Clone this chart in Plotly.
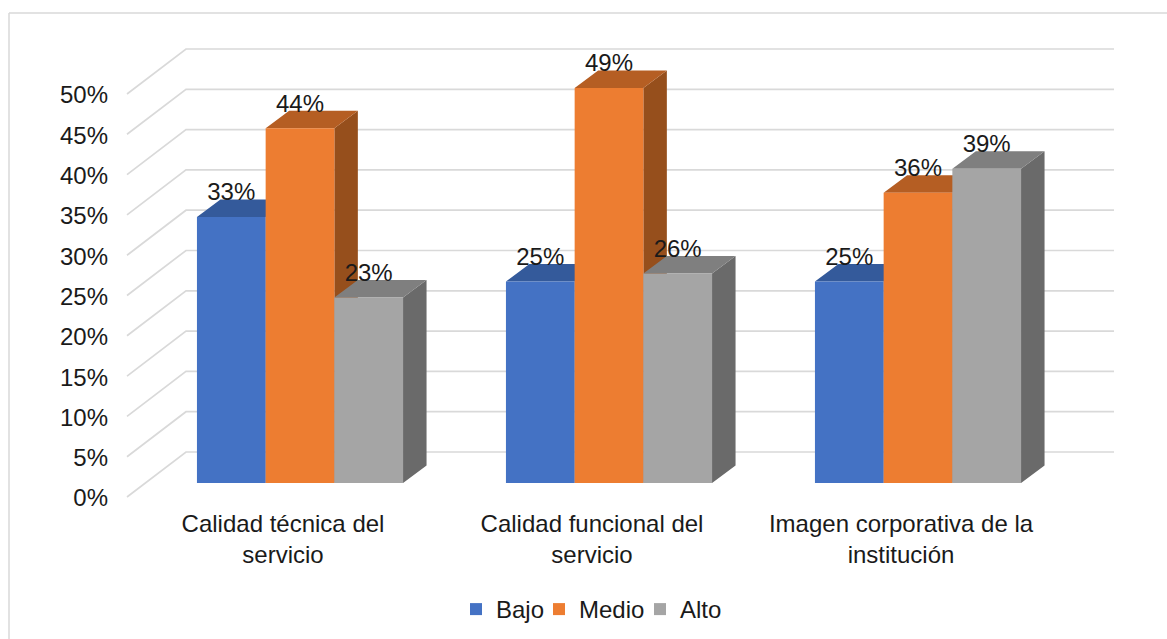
import plotly.graph_objects as go

# ---- data ----
categories = ["Calidad técnica del<br>servicio", "Calidad funcional del<br>servicio", "Imagen corporativa de la<br>institución"]
series_names = ["Bajo", "Medio", "Alto"]
bajo = [33, 25, 25]
medio = [44, 49, 36]
alto = [23, 26, 39]
y_ticks = [0, 5, 10, 15, 20, 25, 30, 35, 40, 45, 50]
y_tick_labels = [f"{t}%" for t in y_ticks]

# ---- style ----
W, H = 1167, 639
PX_X = 309.0        # px per category
PX_Y = 8.06         # px per percentage point
FONT = "Liberation Sans"
FS = 24
TXT = "#1a1a1a"
GRID = "#d9d9d9"
front = ["#4472C4", "#ED7D31", "#A5A5A5"]
top = ["#345A9B", "#B55E23", "#7F7F7F"]
side = ["#2C4C84", "#964F1C", "#6A6A6A"]
values = [bajo, medio, alto]
legend_ids = ["legend", "legend2", "legend3"]
legend_left_px = [456, 539, 640]

BAR_W = 68.7 / PX_X
DX, DY = 23.5 / PX_X, 17.5 / PX_Y       # bar depth in data units
WX, WY = 59.0 / PX_X, 45.0 / PX_Y       # wall depth in data units
CX0 = 300.0         # px of first category centre
Y_BAR0 = 483.0      # px of 0 in the bar plane
Y_FRONT0 = 497.0    # px of 0 in the front wall edge
Y_LABEL0 = 498.0    # px of the 0% tick label centre
X_FRONT = 127.0     # px of front wall edge
X_BACK_END = 1114.0

x_range = [(0 - CX0) / PX_X, (W - CX0) / PX_X]
xf = (X_FRONT - CX0) / PX_X
xe = (X_BACK_END - CX0) / PX_X
grid_shift = (Y_LABEL0 - Y_FRONT0) / PX_Y

fig = go.Figure()

# wall grid on the axis that carries the tick labels
gx, gy = [], []
for t in y_ticks:
    gx += [xf, xf + WX, xe, None]
    gy += [t + grid_shift, t + grid_shift + WY, t + grid_shift + WY, None]
fig.add_trace(go.Scatter(x=gx, y=gy, mode="lines", line=dict(color=GRID, width=1.7),
                         showlegend=False, hoverinfo="skip", yaxis="y"))

# depth faces of each bar
xs = [0, 1, 2]
for s, vals in enumerate(values):
    sx, sy, tx, ty = [], [], [], []
    for c, v in zip(xs, vals):
        left = c + (s - 1.5) * BAR_W
        right = left + BAR_W
        sx += [right, right + DX, right + DX, right, right, None]
        sy += [0, DY, v + DY, v, 0, None]
        tx += [left, left + DX, right + DX, right, left, None]
        ty += [v, v + DY, v + DY, v, v, None]
    fig.add_trace(go.Scatter(x=sx, y=sy, mode="lines", fill="toself", fillcolor=side[s],
                             line=dict(width=0), showlegend=False, hoverinfo="skip", yaxis="y2"))
    fig.add_trace(go.Scatter(x=tx, y=ty, mode="lines", fill="toself", fillcolor=top[s],
                             line=dict(width=0), showlegend=False, hoverinfo="skip", yaxis="y2"))

# front faces
for s, vals in enumerate(values):
    fig.add_trace(go.Bar(x=xs, y=vals, name=series_names[s], marker=dict(color=front[s], line=dict(width=0)),
                         yaxis="y3", legend=legend_ids[s]))

# data labels
lbl_x, lbl_y, lbl_t = [], [], []
for s, vals in enumerate(values):
    for c, v in zip(xs, vals):
        lbl_x.append(c + (s - 1) * BAR_W)
        lbl_y.append(v + 2.8)
        lbl_t.append(f"{v}%")
fig.add_trace(go.Scatter(x=lbl_x, y=lbl_y, text=lbl_t, mode="text", textposition="middle center",
                         textfont=dict(family=FONT, size=FS, color=TXT), showlegend=False,
                         hoverinfo="skip", yaxis="y3"))

bar_range = [-(H - Y_BAR0) / PX_Y, Y_BAR0 / PX_Y]
lab_range = [-(H - Y_LABEL0) / PX_Y, Y_LABEL0 / PX_Y]


def legend_at(px):
    return dict(orientation="h", x=px / W, xanchor="left", y=1 - 609.5 / H, yanchor="middle",
                font=dict(family=FONT, size=FS, color=TXT), bgcolor="rgba(0,0,0,0)")


fig.update_layout(
    width=W, height=H, margin=dict(l=0, r=0, t=0, b=0),
    paper_bgcolor="white", plot_bgcolor="rgba(0,0,0,0)",
    font=dict(family=FONT, size=FS, color=TXT),
    barmode="group", bargap=1 - 3 * BAR_W, bargroupgap=0,
    xaxis=dict(range=x_range, domain=[0, 1], anchor="free", position=1 - 507 / H,
               tickmode="array", tickvals=[c - 17 / PX_X for c in xs], ticktext=categories,
               showgrid=False, zeroline=False, showline=False, ticks="",
               tickfont=dict(family=FONT, size=FS, color=TXT)),
    yaxis=dict(range=lab_range, domain=[0, 1], anchor="free", position=108 / W, side="left",
               tickmode="array", tickvals=y_ticks, ticktext=y_tick_labels,
               showgrid=False, zeroline=False, showline=False, ticks="",
               tickfont=dict(family=FONT, size=FS, color=TXT)),
    yaxis2=dict(range=bar_range, domain=[0, 1], overlaying="y", visible=False),
    yaxis3=dict(range=bar_range, domain=[0, 1], overlaying="y", visible=False),
    legend=legend_at(legend_left_px[0]),
    legend2=legend_at(legend_left_px[1]),
    legend3=legend_at(legend_left_px[2]),
    shapes=[
        dict(type="line", xref="paper", yref="paper", x0=9 / W, x1=9 / W, y0=0, y1=1 - 13 / H,
             line=dict(color=GRID, width=1.5)),
        dict(type="line", xref="paper", yref="paper", x0=9 / W, x1=1, y0=1 - 13 / H, y1=1 - 13 / H,
             line=dict(color=GRID, width=1.5)),
    ],
)

fig.write_html("out.html", config={"displayModeBar": False},
               post_script="document.body.style.margin='0';")
